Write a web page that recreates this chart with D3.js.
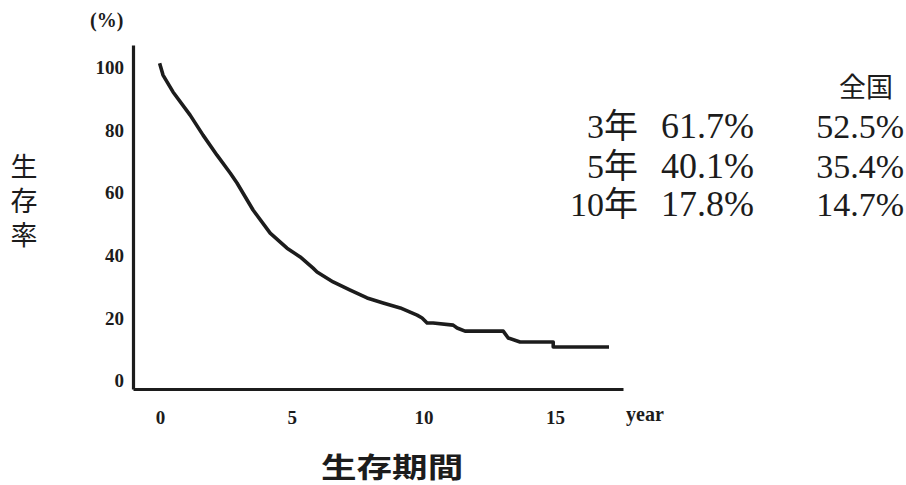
<!DOCTYPE html>
<html><head><meta charset="utf-8">
<script src="https://cdn.jsdelivr.net/npm/d3@7"></script>
<style>
html,body{margin:0;padding:0;background:#fff;}
svg{display:block;}
</style></head>
<body>
<svg id="chart" width="906" height="485"></svg>
<script>
// ---- data ----
const survTime = [0, 0.11, 0.49, 1.14, 1.63, 2.16, 2.66, 2.92, 3.53, 4.18, 4.82, 5.32, 5.81, 5.96, 6.57, 7.22, 7.86, 8.47, 9.12, 9.76, 9.95, 10.14, 10.37, 11.13, 11.28, 11.58, 13.03, 13.22, 13.67, 14.93, 14.93, 16.98];
const survRate = [100, 96.8, 91.4, 84.0, 77.6, 71.2, 65.5, 62.3, 53.7, 46.3, 41.5, 38.7, 35.1, 33.9, 30.7, 28.1, 25.6, 24.0, 22.4, 20.1, 19.2, 17.6, 17.6, 16.9, 16.0, 15.0, 15.0, 12.8, 11.5, 11.5, 9.9, 9.9];
const xTicks = [0, 5, 10, 15];
const yTicks = [0, 20, 40, 60, 80, 100];
const rowLabels = ["3年", "5年", "10年"];
const hospitalRates = ["61.7%", "40.1%", "17.8%"];
const nationalRates = ["52.5%", "35.4%", "14.7%"];
const nationalTitle = "全国";
const yTitle = "生存率";
const xTitle = "生存期間";

const svg = d3.select("#chart");
const ink = "#1c1c1c";
const serif = "'Liberation Serif','Times New Roman',serif";
const cjk = "'Noto Sans CJK JP','Noto Sans CJK SC',sans-serif";

const x = d3.scaleLinear().domain([-1.03, 17.58]).range([133, 623]);
const y = d3.scaleLinear().domain([-3.5, 106.4]).range([389, 45]);

// x axis
const gx = svg.append("g").attr("transform", `translate(0,${y(-3.5)})`)
  .call(d3.axisBottom(x).tickValues(xTicks).tickSize(0).tickPadding(22).tickFormat(d3.format("d")));
gx.select(".domain").attr("stroke", ink).attr("stroke-width", 3.2);
gx.selectAll("text").attr("font-family", serif).attr("font-weight", "bold").attr("font-size", 19).attr("fill", ink);

// y axis
const gy = svg.append("g").attr("transform", `translate(${x(-1.03)},0)`)
  .call(d3.axisLeft(y).tickValues(yTicks).tickSize(0).tickPadding(9).tickFormat(d3.format("d")));
gy.select(".domain").attr("stroke", ink).attr("stroke-width", 3.2);
gy.selectAll("text").attr("font-family", serif).attr("font-weight", "bold").attr("font-size", 19).attr("fill", ink).attr("dy", "0.45em");

// unit labels
svg.append("text").attr("x", 90).attr("y", 27).text("(%)")
  .attr("font-family", serif).attr("font-weight", "bold").attr("font-size", 20).attr("fill", ink);
svg.append("text").attr("x", 626).attr("y", 421).text("year")
  .attr("font-family", serif).attr("font-weight", "bold").attr("font-size", 20).attr("fill", ink);

// survival curve
const pts = survTime.map((t, i) => [t, survRate[i]]);
svg.append("path").datum(pts)
  .attr("fill", "none").attr("stroke", ink).attr("stroke-width", 3.6)
  .attr("stroke-linejoin", "round").attr("stroke-linecap", "square")
  .attr("d", d3.line().x(d => x(d[0])).y(d => y(d[1])).curve(d3.curveLinear));

// axis titles
svg.append("text").attr("x", 24).attr("y", 153)
  .attr("writing-mode", "vertical-rl").attr("letter-spacing", 7)
  .attr("font-family", cjk).attr("font-size", 27).attr("fill", ink).text(yTitle);
svg.append("text").attr("transform", "translate(321,478) scale(1.27,1)")
  .attr("font-family", cjk).attr("font-weight", "bold").attr("font-size", 28)
  .attr("fill", ink).text(xTitle);

// right-hand table
const tblFont = `${serif},${cjk}`;
svg.append("text").attr("x", 893).attr("y", 97).attr("text-anchor", "end")
  .attr("font-family", cjk).attr("font-size", 27).attr("fill", ink).text(nationalTitle);
const baselines = [138, 178, 216];
rowLabels.forEach((lab, i) => {
  svg.append("text").attr("x", 638).attr("y", baselines[i]).attr("text-anchor", "end")
    .attr("font-family", tblFont).attr("font-size", 34).attr("fill", ink).text(lab);
  svg.append("text").attr("x", 661).attr("y", baselines[i])
    .attr("font-family", serif).attr("font-size", 36).attr("fill", ink).text(hospitalRates[i]);
  svg.append("text").attr("x", 904).attr("y", baselines[i]).attr("text-anchor", "end")
    .attr("font-family", serif).attr("font-size", 34).attr("fill", ink).text(nationalRates[i]);
});
</script>
</body></html>
